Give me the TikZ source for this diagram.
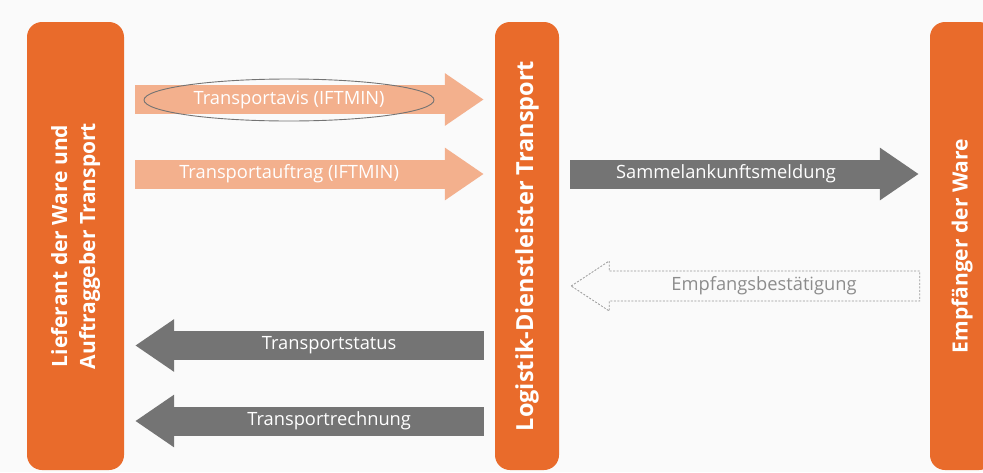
\documentclass[tikz,border=0pt]{standalone}
\usepackage{fontspec}
\setmainfont{Open Sans}
\usepackage{graphicx}
\usepackage{xcolor}
\usepackage{tikz}
\usetikzlibrary{arrows.meta,positioning,calc,shapes.geometric}
\definecolor{partyorange}{HTML}{E96B2B}
\definecolor{msglight}{HTML}{F3B08D}
\definecolor{msgdark}{HTML}{747474}
\definecolor{paper}{HTML}{FAFAFA}
\tikzset{
  party/.style={rectangle, rounded corners=15pt, fill=partyorange, text=white,
    font=\fontsize{21}{28}\selectfont\bfseries, align=center, inner sep=0pt},
  fwd/.style={line width=29pt, msglight, shorten <=11pt, shorten >=11pt,
    -{Triangle[length=39pt,width=50pt]}},
  back/.style={line width=29pt, msgdark, shorten <=11pt, shorten >=11pt,
    -{Triangle[length=39pt,width=50pt]}},
  msg/.style={font=\fontsize{18.3}{20}\selectfont, text=white, inner sep=0pt},
  ack/.style={draw=black!40, line width=0.8pt, dash pattern=on 2pt off 1.5pt},
}
\begin{document}
\begin{tikzpicture}[x=1pt,y=-1pt]
  \fill[paper] (0,0) rectangle (983,472);
  \clip (0,0) rectangle (983,472);
  \useasboundingbox (0,0) rectangle (983,472);

  % the three parties
  \node[party, minimum width=97pt, minimum height=448pt] (lief) at (75.5,246)
    {\rotatebox{90}{\begin{tabular}{@{}c@{}}Lieferant der Ware und\\Auftraggeber Transport\end{tabular}}};
  \node[party, minimum width=64pt, minimum height=448pt,
    font=\fontsize{23.5}{28}\selectfont\bfseries] (logi) at (527,246)
    {\rotatebox{90}{Logistik-Dienstleister Transport}};
  \node[party, minimum width=64pt, minimum height=448pt] (empf) at (962,246)
    {\rotatebox{90}{Empfänger der Ware}};

  % messages
  \draw[fwd] (lief.east |- 0,99.5) -- node[msg,pos=.445] (avis) {Transportavis (IFTMIN)} (logi.west |- 0,99.5);
  \node[draw=black!55, line width=0.9pt, ellipse, minimum width=290pt, minimum height=42pt] (avisring) at (289,100) {};
  \draw[fwd] (lief.east |- 0,174) -- node[msg,pos=.445] (auftrag) {Transportauftrag (IFTMIN)} (logi.west |- 0,174);
  \draw[back] (logi.east |- 0,174) -- node[msg,pos=.45] (sammel) {Sammelankunftsmeldung} (empf.west |- 0,174);
  \draw[back] (logi.west |- 0,345.5) -- node[msg,pos=.447] (status) {Transportstatus} (lief.east |- 0,345.5);
  \draw[back] (logi.west |- 0,421) -- node[msg,pos=.447] (rechnung) {Transportrechnung} (lief.east |- 0,421);

  % receipt, only outlined
  \coordinate (acktip) at ($(logi.east |- 0,286)+(12,0)$);
  \coordinate (acktail) at ($(empf.west |- 0,286)+(-10,0)$);
  \draw[ack] (acktip) -- ++(38,-25) -- ++(0,10) -- ($(acktail)+(0,-15)$)
    -- ($(acktail)+(0,15)$) -- ($(acktip)+(38,15)$) -- ++(0,10) -- cycle;
  \node[msg, text=black!45] (empfang) at (764,286) {Empfangsbestätigung};
\end{tikzpicture}
\end{document}
